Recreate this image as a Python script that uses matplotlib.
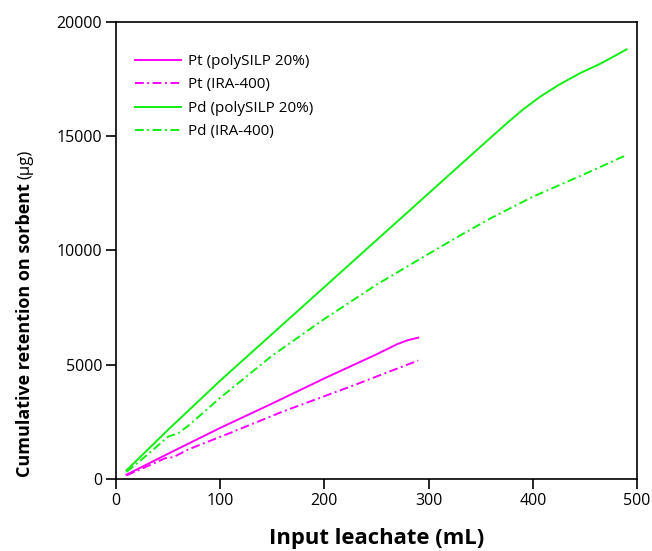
import matplotlib
matplotlib.use("Agg")
import matplotlib.pyplot as plt

# Input leachate volume (mL) and cumulative retention (ug)
pt_silp_x = [10, 50, 100, 150, 200, 250, 270, 280, 290]
pt_silp_y = [180, 1100, 2230, 3300, 4400, 5450, 5900, 6070, 6180]

pt_ira_x = [10, 30, 47, 55, 70, 109, 160, 225, 290]
pt_ira_y = [150, 550, 900, 950, 1300, 2000, 2945, 4040, 5180]

pd_silp_x = [10, 50, 100, 150, 200, 250, 300, 350, 375, 390, 407, 425, 445,
             465, 480, 490]
pd_silp_y = [370, 2150, 4300, 6350, 8400, 10450, 12500, 14550, 15566, 16150,
             16730, 17250, 17754, 18180, 18550, 18805]

pd_ira_x = [10, 30, 50, 60, 70, 100, 150, 200, 250, 300, 330, 360, 400, 450, 490]
pd_ira_y = [300, 1050, 1850, 2000, 2350, 3550, 5400, 7000, 8500, 9850,
            10650, 11420, 12350, 13350, 14180]

labels = ["Pt (polySILP 20%)", "Pt (IRA-400)", "Pd (polySILP 20%)", "Pd (IRA-400)"]

plt.rcParams["font.family"] = ["Open Sans", "DejaVu Sans"]

magenta = "#FF00FF"
green = "#11EE11"
dashdot = (0, (4.5, 1.8, 1, 1.8))

fig = plt.figure(figsize=(6.52, 5.51), dpi=100)
ax = fig.add_axes([0.178, 0.131, 0.799, 0.829])

ax.plot(pt_silp_x, pt_silp_y, color=magenta, lw=1.4, label=labels[0])
ax.plot(pt_ira_x, pt_ira_y, color=magenta, lw=1.4, ls=dashdot, label=labels[1])
ax.plot(pd_silp_x, pd_silp_y, color=green, lw=1.4, label=labels[2])
ax.plot(pd_ira_x, pd_ira_y, color=green, lw=1.4, ls=dashdot, label=labels[3])

ax.set_xlim(0, 500)
ax.set_ylim(0, 20000)
ax.set_xticks([0, 100, 200, 300, 400, 500])
ax.set_yticks([0, 5000, 10000, 15000, 20000])
ax.tick_params(direction="out", length=7, width=1.2, labelsize=11.5, pad=3)
for s in ax.spines.values():
    s.set_linewidth(1.2)

ax.set_xlabel("Input leachate (mL)", fontsize=15.8, fontweight="bold", labelpad=14)

ax.legend(loc="upper left", bbox_to_anchor=(0.01, 0.96), frameon=False,
          fontsize=11, handlelength=3.0, labelspacing=0.55, handletextpad=0.5)

# y label: bold text with the unit in regular weight right after it
ylab = fig.text(25 / 652, 1 - 477 / 551, "Cumulative retention on sorbent",
                rotation=90, fontsize=13, fontweight="bold",
                ha="center", va="bottom")
fig.canvas.draw()
bb = ylab.get_window_extent()
inv = fig.transFigure.inverted()
x0, y0 = inv.transform((bb.x0 + bb.width / 2, bb.y1 + 4))
fig.text(x0, y0, "(μg)", rotation=90, fontsize=12, ha="center", va="bottom")

fig.savefig("out.png", dpi=100)
